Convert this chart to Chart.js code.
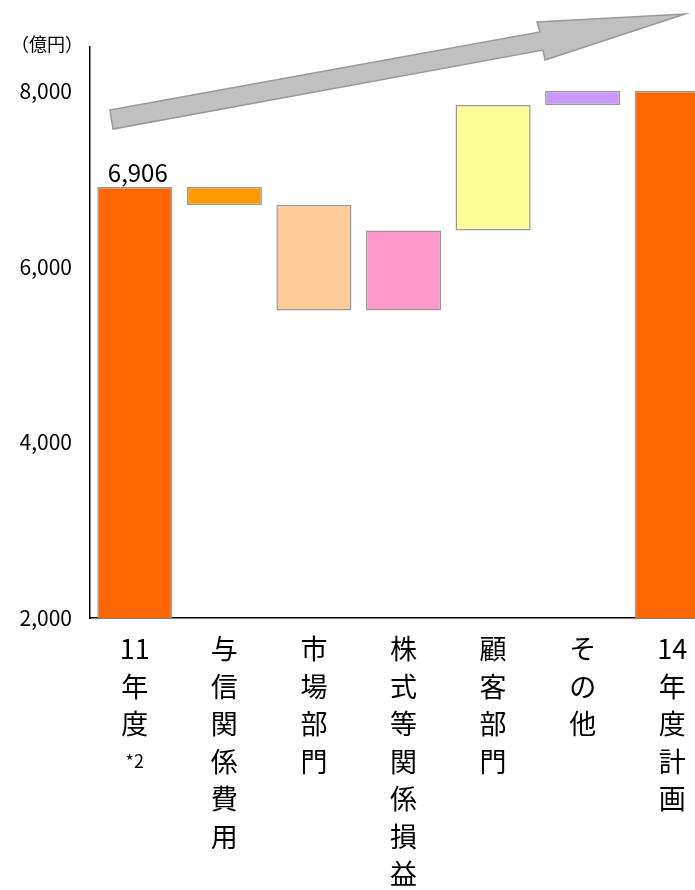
<!DOCTYPE html>
<html lang="ja">
<head>
<meta charset="utf-8">
<title>業務純益 推移</title>
<script src="https://cdn.jsdelivr.net/npm/chart.js@4"></script>
<style>
    html, body { margin: 0; padding: 0; background: #fff; overflow: hidden; }
    #wrap { width: 717px; height: 890px; }
</style>
</head>
<body>
<div id="wrap"><canvas id="bridgeChart"></canvas></div>
<script>
// カテゴリ (縦書きなので1文字ずつ配列)
const categories = [
    ['11', '年', '度'],
    ['与', '信', '関', '係', '費', '用'],
    ['市', '場', '部', '門'],
    ['株', '式', '等', '関', '係', '損', '益'],
    ['顧', '客', '部', '門'],
    ['そ', 'の', '他'],
    ['14', '年', '度', '計', '画']
];
// 各バーの下端と上端 (億円)
const barStart = [0, 6700, 5500, 5500, 6410, 7840, 0];
const barEnd = [6906, 6906, 6700, 6410, 7840, 8000, 8000];
const barColors = ['#FF6600', '#FF9900', '#FFCC99', '#FF99CC', '#FFFF99', '#CC99FF', '#FF6600'];
const yTicks = [2000, 4000, 6000, 8000];
const unitLabel = '（億円）';
const startLabel = '6,906';
const footnote = '*2';

const FONT = "'Noto Sans CJK JP', 'Noto Sans', sans-serif";

// 矢印・単位・注記を描くプラグイン
const decoPlugin = {
    id: 'deco',
    afterDraw(chart) {
        const ctx = chart.ctx;
        const x = chart.scales.x;
        const y = chart.scales.y;
        ctx.save();

        // 上昇トレンドの矢印
        ctx.beginPath();
        ctx.moveTo(110, 110);
        ctx.lineTo(540, 32);
        ctx.lineTo(537, 22);
        ctx.lineTo(685, 14);
        ctx.lineTo(545, 60);
        ctx.lineTo(543, 50);
        ctx.lineTo(113, 129);
        ctx.closePath();
        ctx.fillStyle = '#C0C0C0';
        ctx.fill();
        ctx.strokeStyle = '#999999';
        ctx.lineWidth = 1.5;
        ctx.stroke();

        ctx.fillStyle = '#000';
        // 単位
        ctx.font = '18px ' + FONT;
        ctx.textAlign = 'center';
        ctx.textBaseline = 'middle';
        ctx.fillText(unitLabel, 47, 44);

        // 11年度の値
        ctx.font = '24px ' + FONT;
        ctx.textBaseline = 'bottom';
        ctx.fillText(startLabel, x.getPixelForValue(0) + 3, y.getPixelForValue(barEnd[0]) - 2);

        // 注記
        ctx.font = '18px ' + FONT;
        ctx.textBaseline = 'middle';
        ctx.fillText(footnote, x.getPixelForValue(0), 761);
        ctx.restore();
    }
};

const ctx = document.getElementById('bridgeChart').getContext('2d');
new Chart(ctx, {
    type: 'bar',
    data: {
        labels: categories,
        datasets: [{
            data: barStart.map((s, i) => [s, barEnd[i]]),
            backgroundColor: barColors,
            borderColor: '#999999',
            borderWidth: 1.5,
            borderSkipped: false,
            barPercentage: 1,
            categoryPercentage: 0.838
        }]
    },
    options: {
        responsive: true,
        maintainAspectRatio: false,
        animation: false,
        layout: { padding: { top: 47, left: 0, right: 0, bottom: 0 } },
        plugins: {
            legend: { display: false },
            tooltip: { enabled: false }
        },
        scales: {
            x: {
                grid: { display: false, drawTicks: false },
                border: { display: true, color: '#000', width: 1.5 },
                ticks: {
                    color: '#000',
                    maxRotation: 0,
                    autoSkip: false,
                    padding: 12,
                    font: { family: FONT, size: 27, lineHeight: '37.5px' }
                },
                afterFit(scale) { scale.height = 272; }
            },
            y: {
                min: 2000,
                max: 8500,
                grid: { display: false, drawTicks: false },
                border: { display: true, color: '#000', width: 1.5 },
                afterBuildTicks(scale) {
                    scale.ticks = yTicks.map(v => ({ value: v }));
                },
                ticks: {
                    color: '#000',
                    padding: 18,
                    font: { family: FONT, size: 21 },
                    callback: v => v.toLocaleString('en-US')
                },
                afterFit(scale) { scale.width = 90; }
            }
        }
    },
    plugins: [decoPlugin]
});
</script>
</body>
</html>
